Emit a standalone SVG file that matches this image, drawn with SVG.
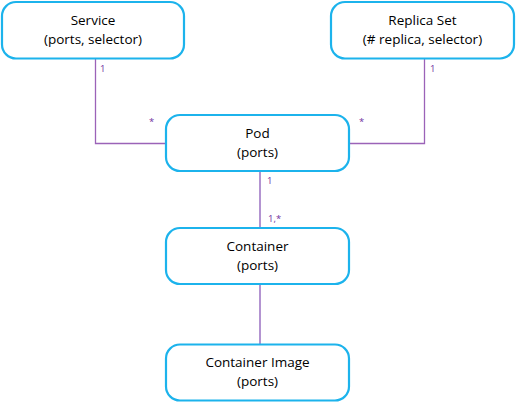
<svg xmlns="http://www.w3.org/2000/svg" width="516" height="403" viewBox="0 0 516 403">
<style>
.box{fill:#fff;stroke:#1cb3ec;stroke-width:2.2}
.t{font-family:"Open Sans","Noto Sans",sans-serif;font-size:13.5px;fill:#000;text-anchor:middle}
.lbl{font-family:"Open Sans","Noto Sans",sans-serif;font-size:9.5px;fill:#7030a0}
.c1{fill:none;stroke:#9b63b8;stroke-width:1.3}
.c2{fill:none;stroke:#b394d1;stroke-width:2}
</style>
<rect width="516" height="403" fill="#fff"/>
<g id="connectors">
<polyline class="c1" points="95.5,58 95.5,143.5 166,143.5"/>
<polyline class="c1" points="424.5,58 424.5,143.5 349,143.5"/>
<line class="c2" x1="260" y1="171" x2="260" y2="228"/>
<line class="c2" x1="260" y1="285" x2="260" y2="344"/>
<text class="lbl" x="100" y="72">1</text>
<text class="lbl" x="149" y="125">*</text>
<text class="lbl" x="430" y="72">1</text>
<text class="lbl" x="359" y="125">*</text>
<text class="lbl" x="267" y="184">1</text>
<text class="lbl" x="268" y="222">1,*</text>
</g>
<g id="service">
<rect class="box" x="2" y="2" width="182" height="56.5" rx="14"/>
<text class="t" x="93" y="25">Service</text>
<text class="t" x="93" y="44">(ports, selector)</text>
</g>
<g id="replicaset">
<rect class="box" x="331" y="2" width="183" height="56.5" rx="14"/>
<text class="t" x="422.5" y="25">Replica Set</text>
<text class="t" x="422.5" y="44">(# replica, selector)</text>
</g>
<g id="pod">
<rect class="box" x="166" y="115" width="183" height="56" rx="14"/>
<text class="t" x="257.5" y="138">Pod</text>
<text class="t" x="257.5" y="157">(ports)</text>
</g>
<g id="container">
<rect class="box" x="166" y="228" width="183" height="56" rx="14"/>
<text class="t" x="257.5" y="251">Container</text>
<text class="t" x="257.5" y="270">(ports)</text>
</g>
<g id="containerimage">
<rect class="box" x="166" y="344.5" width="183" height="56" rx="14"/>
<text class="t" x="257.5" y="367">Container Image</text>
<text class="t" x="257.5" y="386">(ports)</text>
</g>
</svg>
